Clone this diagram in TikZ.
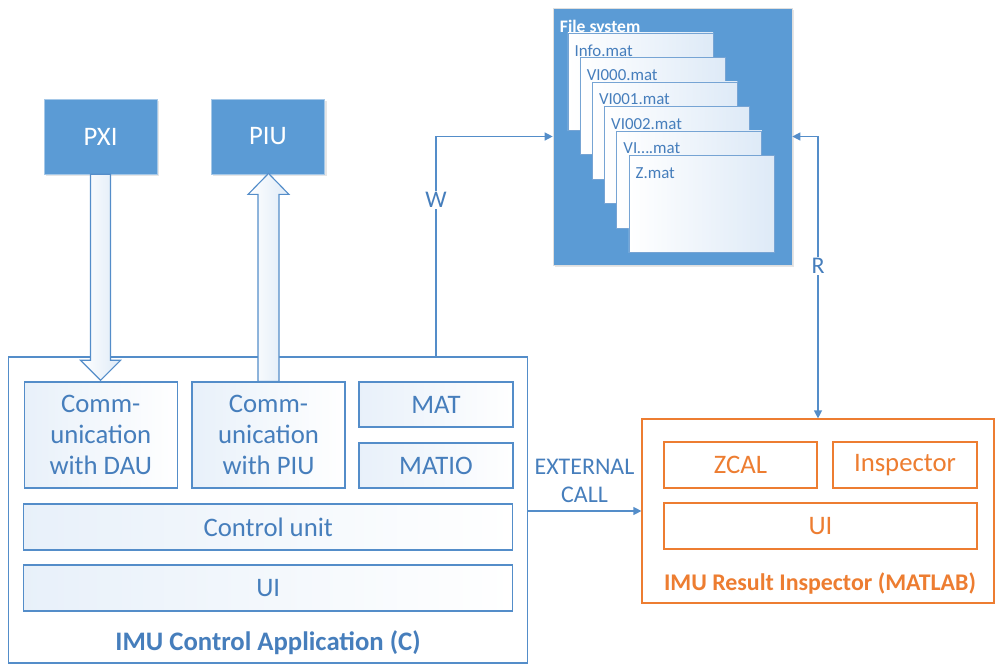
\documentclass[tikz,border=0pt]{standalone}
\usepackage{fontspec}
\setmainfont{Carlito}
\usepackage{tikz}
\usetikzlibrary{arrows.meta,shapes,positioning,shadows}
\usepackage{xcolor}
\definecolor{imublue}{RGB}{91,155,213}
\definecolor{imuline}{RGB}{84,141,201}
\definecolor{imutext}{RGB}{70,126,188}
\definecolor{imupale}{RGB}{222,234,247}
\definecolor{imuorange}{RGB}{237,125,49}
\tikzstyle{bluebox} = [rectangle, draw=imublue!55!white, fill=imublue, text=white, minimum width=2.825cm, minimum height=1.875cm, inner sep=0pt, drop shadow={opacity=0.2,shadow xshift=0.05cm,shadow yshift=-0.05cm}]
\tikzstyle{part} = [rectangle, draw=imuline, line width=0.8pt, left color=imupale!70!white, right color=white, text=imutext, inner sep=0pt, align=center, minimum height=1.15cm]
\tikzstyle{opart} = [rectangle, draw=imuorange, line width=0.8pt, fill=white, text=imuorange, inner sep=0pt, minimum height=1.15cm]
\tikzstyle{doc} = [rectangle, draw=imuline!80, line width=0.6pt, left color=white, right color=imupale, minimum width=3.625cm, minimum height=2.425cm, inner sep=0pt]
\tikzstyle{doctext} = [anchor=north west, inner sep=0pt, text=imutext, font=\fontsize{12}{14}\selectfont]
\tikzstyle{arrow} = [line width=0.9pt, ->, >={Triangle[length=0.2cm,width=0.2cm]}, color=imuline]
\tikzstyle{hollow} = [draw=imuline, line width=0.8pt, left color=white, right color=imupale]
\tikzstyle{lbl} = [fill=white, text=imutext, font=\fontsize{17}{20}\selectfont, inner sep=1pt]

\begin{document}
\begin{tikzpicture}[x=0.025cm, y=-0.025cm, font=\fontsize{19}{22}\selectfont]
\useasboundingbox (0,0) rectangle (995,665);

% Hardware
\node[bluebox] (pxi) at (100.5,136.5) {PXI};
\node[bluebox] (piu) at (268,136.5) {PIU};

% File system
\node[rectangle, draw=white!75!gray, fill=imublue, minimum width=5.975cm, minimum height=6.425cm, inner sep=0pt, drop shadow={opacity=0.2,shadow xshift=0.05cm,shadow yshift=-0.05cm}] (fs) at (672.5,136.5) {};
\node[anchor=north west, inner sep=0pt, text=white, font=\fontsize{12.5}{14}\selectfont\bfseries] (fstitle) at ([shift={(0.175cm,-0.3cm)}]fs.north west) {File system};
\foreach \name [count=\i from 0] in {Info.mat, VI000.mat, VI001.mat, VI002.mat, VI\ldots.mat, Z.mat} {
  \node[doc] (doc\i) at (640.5+12.2*\i, 81.5+24.5*\i) {};
  \node[doctext] (doctext\i) at ([shift={(0.17cm,-0.3cm)}]doc\i.north west) {\name};
}

% IMU Control Application
\node[rectangle, draw=imuline, line width=0.8pt, fill=white, minimum width=12.95cm, minimum height=7.65cm, inner sep=0pt] (app) at (268,510) {};
\node[part, minimum width=3.825cm, minimum height=2.65cm] (dau) at (100.75,435) {Comm-\\unication\\with DAU};
\node[part, minimum width=3.825cm, minimum height=2.65cm] (cpiu) at (268.5,435) {Comm-\\unication\\with PIU};
\node[part, minimum width=3.85cm, minimum height=1.125cm] (mat) at (436,404.5) {MAT};
\node[part, minimum width=3.85cm, minimum height=1.125cm] (matio) at (436,465.5) {MATIO};
\node[part, minimum width=12.225cm] (ctrl) at (268.25,527) {Control unit};
\node[part, minimum width=12.225cm] (ui) at (268.25,588) {UI};
\node[text=imutext, font=\fontsize{19}{22}\selectfont\bfseries] (apptitle) at ([yshift=0.525cm]app.south) {IMU Control Application (C)};

% IMU Result Inspector
\node[rectangle, draw=imuorange, line width=0.8pt, fill=white, minimum width=8.8cm, minimum height=4.6cm, inner sep=0pt] (res) at (818,511) {};
\node[opart, minimum width=3.825cm] (zcal) at (740.5,465) {ZCAL};
\node[opart, minimum width=3.6cm] (insp) at (905,465) {Inspector};
\node[opart, minimum width=7.825cm] (rui) at (820.5,526) {UI};
\node[text=imuorange, font=\fontsize{17}{20}\selectfont\bfseries] (restitle) at ([shift={(0.05cm,0.5cm)}]res.south) {IMU Result Inspector (MATLAB)};

% Block arrows
\draw[hollow] (pxi.south) ++(-10,0) -- ++(0,186) -- ++(-10,0) -- ++(20,20) -- ++(20,-20) -- ++(-10,0) -- ++(0,-186) -- cycle;
\draw[hollow] (cpiu.north) ++(-10.5,0) -- ++(0,-187) -- ++(-10,0) -- ++(20.5,-21) -- ++(20.5,21) -- ++(-10,0) -- ++(0,187) -- cycle;

% Connectors
\draw[arrow] (mat.north |- app.north) -- node[lbl, pos=0.71] {W} (mat.north |- fs.west) -- (fs.west);
\draw[arrow, <->] (fs.east) -- (res.north |- fs.east) -- node[lbl, pos=0.46] {R} (res.north);
\draw[arrow] (app.east |- res.west) -- node[above=0.2cm, inner sep=0pt, align=center, text=imutext, font=\fontsize{17}{20}\selectfont] {EXTERNAL\\CALL} (res.west);
\end{tikzpicture}
\end{document}
